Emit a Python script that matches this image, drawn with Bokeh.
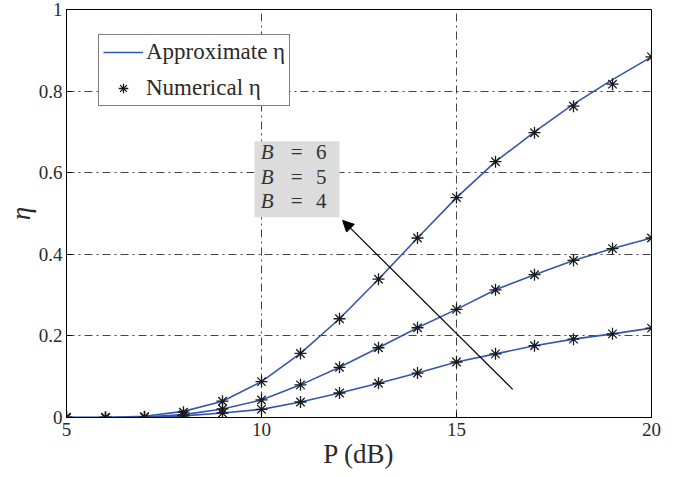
from bokeh.plotting import figure
from bokeh.models import (Range1d, Label, Arrow, NormalHead, Legend, LegendItem,
                          FixedTicker, BoxAnnotation)
from bokeh.embed import file_html
from bokeh.resources import INLINE

# ---- data ----
P = [5, 6, 7, 8, 9, 10, 11, 12, 13, 14, 15, 16, 17, 18, 19, 20]
B6_apx = [0.0, 0.0, 0.003, 0.015, 0.040, 0.088, 0.157, 0.242, 0.339, 0.440, 0.539, 0.627, 0.700, 0.768, 0.828, 0.884]
B6_num = [0.0, 0.0, 0.002, 0.013, 0.040, 0.088, 0.157, 0.242, 0.339, 0.440, 0.539, 0.627, 0.698, 0.763, 0.817, 0.884]
B5_apx = [0.0, 0.0, 0.001, 0.007, 0.021, 0.043, 0.080, 0.123, 0.171, 0.220, 0.265, 0.313, 0.350, 0.385, 0.414, 0.440]
B5_num = [0.0, 0.0, 0.001, 0.007, 0.021, 0.043, 0.080, 0.123, 0.171, 0.220, 0.265, 0.313, 0.350, 0.385, 0.414, 0.440]
B4_apx = [0.0, 0.0, 0.0005, 0.004, 0.011, 0.020, 0.038, 0.060, 0.084, 0.109, 0.136, 0.156, 0.176, 0.192, 0.205, 0.219]
B4_num = [0.0, 0.0, 0.0005, 0.004, 0.011, 0.020, 0.038, 0.060, 0.084, 0.109, 0.136, 0.156, 0.176, 0.192, 0.205, 0.219]
x_ticks = [5, 10, 15, 20]
y_ticks = [0, 0.2, 0.4, 0.6, 0.8, 1]
y_tick_labels = {0: "0", 0.2: "0.2", 0.4: "0.4", 0.6: "0.6", 0.8: "0.8", 1: "1"}
box_labels = ["6", "5", "4"]

FONT = "Liberation Serif"
BLUE = "#3457ad"
TXT = "#2a2a2a"

p = figure(width=683, height=477, output_backend="svg", toolbar_location=None,
           x_range=Range1d(5, 20), y_range=Range1d(0, 1),
           min_border_left=66, min_border_right=32, min_border_top=9, min_border_bottom=60)
p.background_fill_color = "white"
p.border_fill_color = "white"
p.outline_line_color = "black"
p.outline_line_width = 1

for ax in (p.xaxis[0], p.yaxis[0]):
    ax.major_tick_in = 5
    ax.major_tick_out = 0
    ax.minor_tick_line_color = None
    ax.major_label_text_font = FONT
    ax.major_label_text_font_size = "19px"
    ax.major_label_text_color = TXT
    ax.axis_line_color = "black"
    ax.major_tick_line_color = "black"
    ax.axis_label_text_font = FONT
    ax.axis_label_text_color = TXT
p.xaxis[0].ticker = FixedTicker(ticks=x_ticks)
p.yaxis[0].ticker = FixedTicker(ticks=y_ticks)
p.yaxis[0].major_label_overrides = y_tick_labels
p.xaxis[0].major_label_standoff = 5
p.yaxis[0].major_label_standoff = 4

p.xaxis[0].axis_label = "P (dB)"
p.xaxis[0].axis_label_text_font_size = "27px"
p.xaxis[0].axis_label_text_font_style = "normal"
p.xaxis[0].axis_label_standoff = 0
p.yaxis[0].axis_label = "η"
p.yaxis[0].axis_label_text_font_size = "27px"
p.yaxis[0].axis_label_text_font_style = "italic"
p.yaxis[0].axis_label_standoff = 0

for g in (p.xgrid[0], p.ygrid[0]):
    g.grid_line_color = "#444444"
    g.grid_line_dash = "8 4 2 4"
    g.grid_line_width = 1
p.xgrid[0].ticker = FixedTicker(ticks=x_ticks)
p.ygrid[0].ticker = FixedTicker(ticks=y_ticks)

# gray annotation box (under the curves)
p.add_layout(BoxAnnotation(left=9.82, right=12.0, bottom=0.491, top=0.677,
                           fill_color="#dcdcdc", fill_alpha=1.0, line_color=None, level="underlay"))

lines = []
marks = []
for apx, num in ((B6_apx, B6_num), (B5_apx, B5_num), (B4_apx, B4_num)):
    lines.append(p.line(P, apx, line_color=BLUE, line_width=1.6))
    marks.append(p.scatter(P, num, marker="asterisk", size=12, line_color="#1a1a1a", line_width=1.3))

for lab, yy in zip(box_labels, [0.650, 0.590, 0.530]):
    p.add_layout(Label(x=9.98, y=yy, text="B", text_font=FONT, text_font_style="italic",
                       text_font_size="21px", text_baseline="middle", text_color="#333333"))
    p.add_layout(Label(x=10.75, y=yy, text="=", text_font=FONT,
                       text_font_size="21px", text_baseline="middle", text_color="#333333"))
    p.add_layout(Label(x=11.40, y=yy, text=lab, text_font=FONT,
                       text_font_size="21px", text_baseline="middle", text_color="#333333"))

# arrow
p.add_layout(Arrow(end=NormalHead(size=11, fill_color="black", line_color="black"),
                   x_start=16.44, y_start=0.069, x_end=12.08, y_end=0.483,
                   line_color="black", line_width=1.2))

legend = Legend(items=[LegendItem(label="Approximate η", renderers=[lines[0]]),
                       LegendItem(label="Numerical η", renderers=[marks[0]])],
                location=(32, 311), orientation="vertical",
                label_text_font=FONT, label_text_font_size="23px", label_text_color=TXT,
                glyph_width=40, glyph_height=24, label_standoff=3, label_height=24,
                padding=4, spacing=10, margin=0,
                border_line_color="black", border_line_width=1,
                background_fill_color="white", background_fill_alpha=1.0)
p.add_layout(legend)

open("out.html", "w").write(file_html(p, INLINE))
